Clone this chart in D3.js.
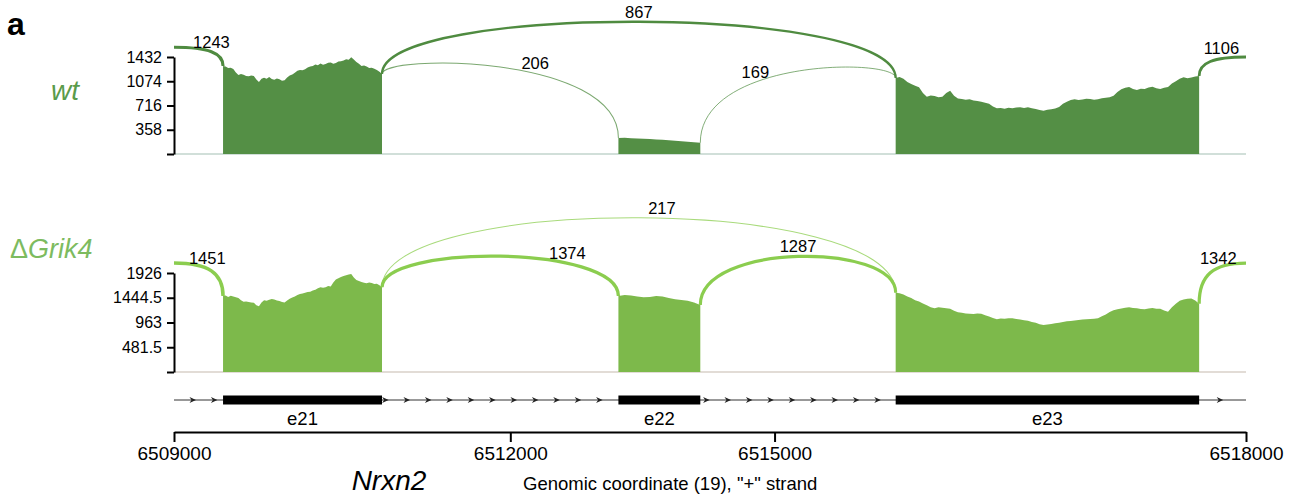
<!DOCTYPE html>
<html>
<head>
<meta charset="utf-8">
<script src="https://cdn.jsdelivr.net/npm/d3@7"></script>
<style>
  body { margin: 0; background: #fff; }
  svg { display: block; font-family: "Liberation Sans", Arial, sans-serif; }
</style>
</head>
<body>
<svg id="chart" width="1303" height="500"></svg>
<script>
// region shown (chr19, "+" strand)
const regionStart = 6509000;
const regionEnd = 6518000;
const xTicks = [6509000, 6512000, 6515000, 6518000];

const exonNames = ['e21', 'e22', 'e23'];
const exonStart = [6509784, 6513728, 6516936];
const exonEnd = [6509949, 6513813, 6517251];

// read coverage, evenly spaced samples across each exon
const wtCovE21 = [1300, 1290, 1268, 1275, 1255, 1205, 1166, 1180, 1170, 1152, 1148, 1160, 1150, 1098, 1063, 1110,
  1125, 1112, 1135, 1108, 1095, 1115, 1105, 1082, 1090, 1130, 1160, 1172, 1200, 1228, 1240, 1236, 1252, 1278, 1290,
  1298, 1320, 1310, 1335, 1318, 1330, 1348, 1352, 1334, 1345, 1366, 1370, 1382, 1400, 1392, 1430, 1395, 1360, 1332,
  1300, 1308, 1290, 1268, 1272, 1258, 1240, 1215, 1180];
const wtCovE22 = [236, 240, 234, 230, 226, 222, 215, 210, 204, 196, 188, 180, 172, 165];
const wtCovE23 = [1122, 1135, 1110, 1062, 1035, 1008, 984, 900, 846, 862, 856, 838, 846, 900, 935, 860, 820, 812,
  800, 808, 790, 784, 772, 758, 740, 700, 674, 680, 668, 682, 674, 686, 690, 678, 689, 676, 665, 650, 639, 652, 660,
  672, 695, 740, 770, 798, 807, 796, 805, 816, 812, 802, 807, 822, 830, 838, 860, 915, 955, 978, 990, 958, 945, 962,
  960, 980, 994, 972, 960, 978, 990, 1040, 1075, 1110, 1132, 1120, 1130, 1145, 1151];

const grikCovE21 = [1478, 1490, 1460, 1482, 1470, 1452, 1440, 1395, 1367, 1372, 1360, 1350, 1345, 1300, 1280, 1350,
  1395, 1388, 1405, 1420, 1412, 1392, 1380, 1362, 1350, 1392, 1425, 1448, 1470, 1500, 1517, 1528, 1540, 1556, 1562,
  1585, 1600, 1630, 1647, 1640, 1650, 1672, 1665, 1740, 1800, 1822, 1850, 1868, 1880, 1895, 1906, 1840, 1790, 1768,
  1750, 1738, 1725, 1742, 1730, 1712, 1718, 1690, 1647];
const grikCovE22 = [1478, 1498, 1490, 1470, 1453, 1460, 1478, 1470, 1440, 1414, 1400, 1387, 1350, 1303];
const grikCovE23 = [1543, 1530, 1510, 1470, 1440, 1398, 1370, 1335, 1300, 1262, 1240, 1258, 1250, 1238, 1230, 1190,
  1160, 1152, 1140, 1132, 1128, 1140, 1135, 1102, 1080, 1050, 1025, 1040, 1035, 1048, 1044, 1030, 1020, 1008, 995,
  975, 960, 930, 914, 926, 935, 948, 960, 972, 985, 990, 1000, 1012, 1020, 1026, 1030, 1038, 1044, 1085, 1120, 1165,
  1200, 1222, 1235, 1250, 1258, 1246, 1240, 1226, 1219, 1236, 1245, 1232, 1230, 1196, 1173, 1260, 1330, 1385, 1410,
  1425, 1430, 1390, 1330];

const wtTicks = [358, 716, 1074, 1432];
const grikTicks = [481.5, 963, 1444.5, 1926];

// junctions: donor exon -> acceptor exon (-1 / 3 = outside the window)
const junctionFrom = [-1, 0, 0, 1, 2];
const junctionTo = [0, 1, 2, 2, 3];
const wtJunctionReads = [1243, 206, 867, 169, 1106];
const grikJunctionReads = [1451, 1374, 217, 1287, 1342];

// ---- layout ----
const X0 = 174, X1 = 1246;
const INTRON_SHRINK = 15.4;
const TRACK_Y = 400, AXIS_Y = 432;

const panels = [
  {
    label: 'wt', cov: [wtCovE21, wtCovE22, wtCovE23], ticks: wtTicks, reads: wtJunctionReads,
    bottom: 154, top: 57,
    fill: '#548f45', arc: '#4f8b40', base: '#c2d5cd', text: '#5a9b4b',
    // arc control height, in units of the axis max
    ctrl: [1.10, 1.03, 1.55, 0.99, 1.0],
    labelT: [0.5, 0.6, 0.5, 0.35, 0.7]
  },
  {
    label: 'ΔGrik4', cov: [grikCovE21, grikCovE22, grikCovE23], ticks: grikTicks, reads: grikJunctionReads,
    bottom: 372, top: 273,
    fill: '#7db94b', arc: '#8bcd4f', base: '#d8d0c8', text: '#7dbb5f',
    ctrl: [1.10, 1.29, 1.80, 1.31, 1.10],
    labelT: [0.42, 0.7, 0.53, 0.5, 0.65]
  }
];

const svg = d3.select('#chart');

// piecewise scale: exons at full width, introns shrunk
const breaks = [regionStart];
exonStart.forEach((s, i) => breaks.push(s, exonEnd[i]));
breaks.push(regionEnd);
const cum = [0];
for (let i = 1; i < breaks.length; i++) {
  const len = breaks[i] - breaks[i - 1];
  cum.push(cum[i - 1] + (i % 2 === 0 ? len : len / INTRON_SHRINK));
}
const total = cum[cum.length - 1];
const x = d3.scaleLinear()
    .domain(breaks)
    .range(cum.map(c => X0 + c * (X1 - X0) / total));

function bez(p, t) {
  const u = 1 - t;
  const a = u * u * u, b = 3 * u * u * t, c = 3 * u * t * t, d = t * t * t;
  return [a * p[0][0] + b * p[1][0] + c * p[2][0] + d * p[3][0],
          a * p[0][1] + b * p[1][1] + c * p[2][1] + d * p[3][1]];
}

panels.forEach(pn => {
  const max = pn.ticks[pn.ticks.length - 1];
  const y = d3.scaleLinear().domain([0, max]).range([pn.bottom, pn.top]);
  const g = svg.append('g');

  // baseline
  g.append('line')
      .attr('x1', X0).attr('x2', X1)
      .attr('y1', pn.bottom).attr('y2', pn.bottom)
      .attr('stroke', pn.base).attr('stroke-width', 1.5);

  // coverage
  const area = d3.area()
      .x(d => x(d.pos))
      .y0(y(0))
      .y1(d => y(d.v));
  const exonPts = pn.cov.map((vals, i) => vals.map((v, k) => ({
    pos: exonStart[i] + k * (exonEnd[i] - exonStart[i]) / (vals.length - 1), v
  })));
  exonPts.forEach(pts => {
    g.append('path')
        .attr('d', area(pts))
        .attr('fill', pn.fill);
  });

  // junction arcs
  const width = d3.scaleLinear().domain([0, 500]).range([0.6, 1.6]);
  pn.reads.forEach((n, j) => {
    const from = junctionFrom[j], to = junctionTo[j];
    const cy = y(pn.ctrl[j] * max);
    let p;
    if (from < 0) {
      const first = exonPts[to][0];
      const xe = x(first.pos), ye = y(first.v), xs = x(regionStart);
      p = [[xs, cy], [xs + 0.7 * (xe - xs), cy], [xe, cy + 0.3 * (ye - cy)], [xe, ye]];
    } else if (to >= exonNames.length) {
      const last = exonPts[from][exonPts[from].length - 1];
      const xs = x(last.pos), ys = y(last.v), xe = x(regionEnd);
      p = [[xs, ys], [xs, cy + 0.3 * (ys - cy)], [xs + 0.3 * (xe - xs), cy], [xe, cy]];
    } else {
      const last = exonPts[from][exonPts[from].length - 1];
      const first = exonPts[to][0];
      const x1 = x(last.pos), y1 = y(last.v), x2 = x(first.pos), y2 = y(first.v);
      p = [[x1, y1], [x1, cy], [x2, cy], [x2, y2]];
    }
    g.append('path')
        .attr('d', `M${p[0]} C${p[1]} ${p[2]} ${p[3]}`)
        .attr('fill', 'none')
        .attr('stroke', pn.arc)
        .attr('stroke-width', width(n))
        .attr('stroke-opacity', n < 300 ? 0.75 : 1);

    const lp = bez(p, pn.labelT[j]);
    g.append('text')
        .attr('x', lp[0]).attr('y', lp[1] - 10)
        .attr('dy', '0.35em')
        .attr('text-anchor', 'middle')
        .attr('font-size', 16.5)
        .attr('fill', '#000')
        .text(n);
  });

  // y axis
  const ax = g.append('g')
      .attr('transform', `translate(${X0},0)`)
      .call(d3.axisLeft(y)
        .tickValues([0, ...pn.ticks])
        .tickFormat(d => d === 0 ? '' : d)
        .tickSize(7).tickSizeOuter(0).tickPadding(5));
  ax.select('.domain').attr('stroke', '#000').attr('stroke-width', 2);
  ax.selectAll('.tick line').attr('stroke', '#000').attr('stroke-width', 2);
  ax.selectAll('.tick text')
      .attr('font-size', 16).attr('fill', '#000')
      .attr('font-family', '"Liberation Sans", Arial, sans-serif');
});

// sample labels
svg.append('text')
    .attr('x', 65).attr('y', 100)
    .attr('text-anchor', 'middle')
    .attr('font-size', 28).attr('font-style', 'italic')
    .attr('fill', panels[0].text)
    .text(panels[0].label);

const gl = svg.append('text')
    .attr('x', 10).attr('y', 258)
    .attr('font-size', 27)
    .attr('fill', panels[1].text);
gl.append('tspan').text(panels[1].label.slice(0, 1));
gl.append('tspan').attr('font-style', 'italic').text(panels[1].label.slice(1));

svg.append('text')
    .attr('x', 7).attr('y', 35)
    .attr('font-size', 32).attr('font-weight', 'bold')
    .text('a');

// gene model
svg.append('line')
    .attr('x1', X0).attr('x2', X1)
    .attr('y1', TRACK_Y).attr('y2', TRACK_Y)
    .attr('stroke', '#333').attr('stroke-width', 1);

const exonPx = exonStart.map((s, i) => [x(s), x(exonEnd[i])]);
for (let ax = X0 + 19; ax < X1 - 6; ax += 21.4) {
  if (exonPx.some(([a, b]) => ax > a - 5 && ax < b + 3)) continue;
  svg.append('path')
      .attr('d', `M${ax - 3.5},${TRACK_Y - 3} L${ax + 3},${TRACK_Y} L${ax - 3.5},${TRACK_Y + 3} L${ax - 1.5},${TRACK_Y} Z`)
      .attr('fill', '#222');
}

exonNames.forEach((name, i) => {
  svg.append('rect')
      .attr('x', x(exonStart[i])).attr('y', TRACK_Y - 4.5)
      .attr('width', x(exonEnd[i]) - x(exonStart[i])).attr('height', 9)
      .attr('fill', '#000');
  svg.append('text')
      .attr('x', (x(exonStart[i]) + x(exonEnd[i])) / 2).attr('y', 425)
      .attr('text-anchor', 'middle')
      .attr('font-size', 18.5)
      .text(name);
});

// genomic axis
const xa = svg.append('g')
    .attr('transform', `translate(0,${AXIS_Y})`)
    .call(d3.axisBottom(x)
      .tickValues(xTicks)
      .tickFormat(d3.format('d'))
      .tickSize(10).tickSizeOuter(0).tickPadding(5));
xa.select('.domain').attr('stroke', '#000').attr('stroke-width', 2);
xa.selectAll('.tick line').attr('stroke', '#000').attr('stroke-width', 2);
xa.selectAll('.tick text')
    .attr('font-size', 19).attr('fill', '#000')
    .attr('font-family', '"Liberation Sans", Arial, sans-serif');

svg.append('text')
    .attr('x', 389).attr('y', 490)
    .attr('text-anchor', 'middle')
    .attr('font-size', 28).attr('font-style', 'italic')
    .text('Nrxn2');

svg.append('text')
    .attr('x', 523).attr('y', 490)
    .attr('font-size', 18.5)
    .text('Genomic coordinate (19), "+" strand');
</script>
</body>
</html>
